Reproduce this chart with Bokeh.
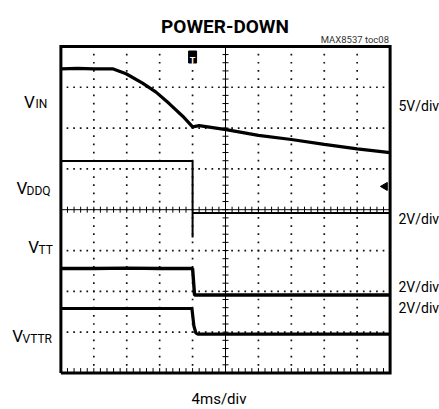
import numpy as np
from bokeh.plotting import figure
from bokeh.models import Label, Range1d
from bokeh.embed import file_html
from bokeh.resources import INLINE

# ---------------- data (screen divisions: x 0..10 @ 4ms/div, y 0..8) ----------------
vin_t = [0.0, 0.5, 1.0, 1.57, 1.98, 2.48, 2.89, 3.29, 3.70, 4.0, 4.20, 5.02, 6.0, 7.0, 8.0, 9.0, 10.0]
vin_v = [7.45, 7.46, 7.45, 7.45, 7.33, 7.10, 6.88, 6.60, 6.29, 6.03, 6.06, 5.96, 5.82, 5.72, 5.60, 5.49, 5.40]

vddq_t = [0.0, 1.0, 2.0, 3.0, 4.0, 4.0, 4.0, 4.06, 5.0, 6.0, 7.0, 8.0, 9.0, 10.0]
vddq_v = [5.19, 5.19, 5.19, 5.19, 5.19, 3.32, 3.92, 3.92, 3.92, 3.92, 3.92, 3.92, 3.92, 3.92]

vtt_t = [0.0, 1.0, 2.0, 3.0, 4.0, 4.06, 4.12, 5.0, 6.0, 7.0, 8.0, 9.0, 10.0]
vtt_v = [2.56, 2.56, 2.57, 2.56, 2.56, 1.91, 1.91, 1.91, 1.91, 1.91, 1.91, 1.91, 1.91]

vttr_t = [0.0, 1.0, 2.0, 3.0, 3.98, 4.04, 4.10, 4.16, 5.0, 6.0, 7.0, 8.0, 9.0, 10.0]
vttr_v = [1.58, 1.58, 1.58, 1.58, 1.58, 1.15, 0.98, 0.95, 0.95, 0.95, 0.95, 0.95, 0.95, 0.95]

trigger_t = 4.0
ground_marker_v = 4.57

left_labels = [("V", "IN"), ("V", "DDQ"), ("V", "TT"), ("V", "VTTR")]
right_labels = ["5V/div", "2V/div", "2V/div", "2V/div"]
x_label = "4ms/div"
title_text = "POWER-DOWN"
note_text = "MAX8537 toc08"

# ---------------- layout helpers (page px -> divisions) ----------------
W, H = 439, 409
FL, FT, FW, FH = 60.4, 45.9, 329.2, 326.6  # scope screen in page px
XDIV, YDIV = 10, 8


def dx(px):
    return (px - FL) / (FW / XDIV)


def dy(py):
    return (FT + FH - py) / (FH / YDIV)


FONT = "Roboto"

p = figure(width=W, height=H, frame_width=W, frame_height=H,
           min_border=0,
           x_range=Range1d(dx(0), dx(W)), y_range=Range1d(dy(H), dy(0)),
           x_axis_location=None, y_axis_location=None,
           toolbar_location=None, output_backend="svg")
p.grid.visible = False
p.outline_line_color = None
p.background_fill_color = "white"
p.border_fill_color = "white"

# dotted graticule
minor = 0.2
gx, gy = [], []
for i in range(1, XDIV):
    if i == XDIV // 2:
        continue
    for k in np.arange(minor, YDIV - 1e-9, minor):
        gx.append(i); gy.append(k)
for j in range(1, YDIV):
    if j == YDIV // 2:
        continue
    for k in np.arange(minor, XDIV - 1e-9, minor):
        gx.append(k); gy.append(j)
p.scatter(gx, gy, marker="square", size=1.7, color="#111111", line_width=0)

# center axes with ticks
p.line([XDIV / 2, XDIV / 2], [0, YDIV], line_color="black", line_width=1)
p.line([0, XDIV], [YDIV / 2, YDIV / 2], line_color="black", line_width=1)
ty = np.arange(minor, YDIV - 1e-9, minor)
p.scatter([XDIV / 2] * len(ty), ty, marker="dash", size=6, color="black", line_width=1)
tx = np.arange(minor, XDIV - 1e-9, minor)
p.scatter(tx, [YDIV / 2] * len(tx), marker="dash", size=6, angle=np.pi / 2, color="black", line_width=1)
# bottom border ticks
p.scatter(tx, [0.06] * len(tx), marker="dash", size=5, angle=np.pi / 2, color="black", line_width=1)

# scope screen border
p.line([0, XDIV, XDIV, 0, 0], [0, 0, YDIV, YDIV, 0], line_color="black", line_width=3, line_join="miter")

# traces
p.line(vin_t, vin_v, line_color="black", line_width=3.2)
p.line(vddq_t, vddq_v, line_color="black", line_width=2)
p.line(vtt_t, vtt_v, line_color="black", line_width=3.4)
p.line(vttr_t, vttr_v, line_color="black", line_width=3.2)

# trigger marker
p.rect(x=[trigger_t], y=[dy(56.5)], width=8, height=12, width_units="screen", height_units="screen",
       fill_color="black", line_color="black")
p.add_layout(Label(x=trigger_t, y=dy(60.5), text="T", text_color="white", text_font=FONT,
                   text_font_size="9px", text_font_style="bold", text_align="center",
                   text_baseline="alphabetic"))
# ground marker on right edge
p.scatter([dx(384.5)], [ground_marker_v], marker="triangle", angle=np.pi / 2, size=8, color="black")

# left channel labels: (V x, V baseline, sub x, sub baseline)
left_pos = [(23.5, 101, 35.0, 103.5), (16.0, 187, 26.0, 190), (27.7, 246, 38.0, 249), (11.7, 335, 22.0, 338)]
for (main, sub), (x1, b1, x2, b2) in zip(left_labels, left_pos):
    p.add_layout(Label(x=dx(x1), y=dy(b1), text=main, text_font=FONT, text_font_size="17px",
                       text_baseline="alphabetic", text_align="left", text_color="black"))
    p.add_layout(Label(x=dx(x2), y=dy(b2), text=sub, text_font=FONT, text_font_size="12px",
                       text_baseline="alphabetic", text_align="left", text_color="black"))

# right scale labels
right_pos = [(398, 105), (398, 218), (398, 286), (398, 307)]
for txt, (x1, b1) in zip(right_labels, right_pos):
    p.add_layout(Label(x=dx(x1), y=dy(b1), text=txt, text_font=FONT, text_font_size="14px",
                       text_baseline="alphabetic", text_align="left", text_color="black"))

p.add_layout(Label(x=dx(218.5), y=dy(398), text=x_label, text_font=FONT, text_font_size="15px",
                   text_baseline="alphabetic", text_align="center", text_color="black"))
p.add_layout(Label(x=dx(224.5), y=dy(26), text=title_text, text_font=FONT, text_font_size="19px",
                   text_font_style="bold", text_baseline="alphabetic", text_align="center", text_color="black"))
p.add_layout(Label(x=dx(388.5), y=dy(39), text=note_text, text_font=FONT, text_font_size="9.5px",
                   text_baseline="alphabetic", text_align="right", text_color="#333333"))

open("out.html", "w").write(file_html(p, INLINE))
